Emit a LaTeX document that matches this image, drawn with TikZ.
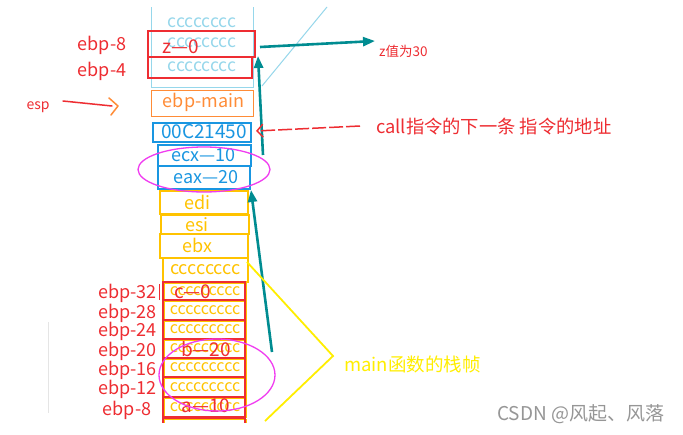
\documentclass[tikz,border=0pt]{standalone}
\usepackage{fontspec}
\setmainfont{Noto Sans CJK SC}
\usetikzlibrary{arrows.meta}
\definecolor{lblue}{RGB}{150,215,235}
\definecolor{cred}{RGB}{238,45,50}
\definecolor{corange}{RGB}{255,140,55}
\definecolor{cblue}{RGB}{25,150,225}
\definecolor{cgold}{RGB}{255,195,0}
\definecolor{cyel}{RGB}{255,238,0}
\definecolor{cteal}{RGB}{0,140,145}
\definecolor{cmag}{RGB}{240,60,240}
\definecolor{cgrey}{RGB}{150,150,150}
\tikzset{
  cell/.style={inner sep=0pt, anchor=north west},
  lbl/.style={inner sep=0pt, font=\fontsize{18}{18}\selectfont, text=cred},
  celltext/.style={inner sep=0pt, font=\fontsize{18}{18}\selectfont},
  tealarrow/.style={cteal, line width=2.6pt, -{Triangle[length=12pt,width=9pt]}},
}
\begin{document}
\begin{tikzpicture}[x=1pt,y=-1pt]
\useasboundingbox (0,0) rectangle (683,434);
\clip (0,0) rectangle (683,434);
\fill[white] (0,0) rectangle (683,434);
% light blue column
\draw[lblue, line width=1pt] (151,7) -- (151,87) -- (253,87) -- (253,7);
\draw[lblue, line width=1pt] (327,7) -- (262,86);
\foreach \y/\n in {23/c1,43/c2,67/c3}
  \node[inner sep=0pt, text=lblue, font=\fontsize{17.5}{17}\selectfont] (\n) at (202,\y) {cccccccc};
% red boxes z
\draw[cred, line width=1.5pt] (148,31) rectangle (255,57);
\draw[cred, line width=1.5pt] (148,57) rectangle (252,78);
\node[lbl, font=\fontsize{19}{19}\selectfont] (z0) at (181,47) {z—0};
\node[lbl] (e8a) at (102,45) {ebp-8};
\node[lbl] (e4a) at (102,71) {ebp-4};
% esp
\node[inner sep=0pt, text=cred, font=\fontsize{14}{14}\selectfont] (esp) at (38,107) {esp};
\coordinate (espA) at (63,101);
\coordinate (espB) at (112,106);
\draw[cred, line width=1.5pt, line cap=round] (espA) -- (espB);
\draw[corange, line width=1.5pt, line cap=round, line join=round] (109,98) -- (118,106) -- (111,115);
% ebp-main
\node[cell, draw=corange, line width=1.2pt, minimum width=102pt, minimum height=26pt] (ebpm) at (151,90) {};
\node[celltext, text=corange] at ([xshift=1pt,yshift=1pt]ebpm.center) {ebp-main};
% return address
\node[cell, draw=cblue, line width=2pt, minimum width=98pt, minimum height=19pt] (ret) at (152,122) {};
\node[celltext, text=cblue, font=\fontsize{19}{19}\selectfont] at ([xshift=2pt,yshift=1pt]ret.center) {00C21450};
\node[cell, draw=cblue, line width=2pt, minimum width=93pt, minimum height=21pt] (ecx) at (157,144) {};
\node[celltext, text=cblue] at ([xshift=-1pt]ecx.center) {ecx—10};
\node[cell, draw=cblue, line width=2pt, minimum width=92pt, minimum height=23pt] (eax) at (157,165) {};
\node[celltext, text=cblue] at ([xshift=2pt]eax.center) {eax—20};
% yellow
\node[cell, draw=cgold, line width=1.5pt, minimum width=88pt, minimum height=23pt] (edi) at (159,190) {};
\node[celltext, text=cgold] at ([xshift=-6pt]edi.center) {edi};
\node[cell, draw=cgold, line width=1.5pt, minimum width=88pt, minimum height=19pt] (esi) at (160,214) {};
\node[celltext, text=cgold] at ([xshift=-8pt]esi.center) {esi};
\node[cell, draw=cgold, line width=1.5pt, minimum width=88pt, minimum height=24pt] (ebx) at (159,233) {};
\node[celltext, text=cgold] at ([xshift=-6pt]ebx.center) {ebx};
\node[cell, draw=cgold, line width=1.5pt, minimum width=85pt, minimum height=24pt] (yc) at (162,257) {};
\node[celltext, text=cgold] at (yc.center) {cccccccc};
% red rows
\begin{scope}
\clip (0,0) rectangle (683,422);
\foreach \a/\b/\n in {282/300/r1,300/320/r2,320/339/r3,339/358/r4,358/377/r5,377/397/r6,397/417/r7,418/440/r8}{
  \draw[cgold, line width=1pt] (164,\a+1) rectangle (246,\b);
  \draw[cred, line width=1.8pt] (163,\a) rectangle (245,\b);
  \node[inner sep=0pt, text=cgold, font=\fontsize{16}{16}\selectfont] (\n) at (205,{(\a+\b)/2}) {ccccccccc};
}
\end{scope}
\node[lbl, font=\fontsize{19}{19}\selectfont] (cv) at (193,292) {c—0};
\node[lbl, font=\fontsize{19}{19}\selectfont] (bv) at (206,349) {b—20};
\node[lbl, font=\fontsize{19}{19}\selectfont] (av) at (206,406) {a—10};
\foreach \y/\t in {293/ebp-32,313/ebp-28,331/ebp-24,351/ebp-20,370/ebp-16,389/ebp-12}
  \node[lbl, anchor=east] at (157,\y) {\t};
\node[lbl] (e8b) at (127,410) {ebp-8};
\draw[cred, line width=1pt] (159,284) -- (159,300);
\draw[black!10, line width=0.8pt] (48,322) -- (48,413);
% ellipses
\draw[cmag, line width=1.3pt] (204,169.5) ellipse [x radius=66, y radius=22.5];
\draw[cmag, line width=1.3pt] (217,375) ellipse [x radius=58, y radius=36];
% teal arrows
\coordinate (zt) at (375,41);
\draw[tealarrow] (260,47) -- (zt);
\node[inner sep=0pt, anchor=west, text=cred, font=\fontsize{13.5}{13}\selectfont] (zlab) at (379,51) {z值为30};
\coordinate (t1s) at (263,155);
\coordinate (t1e) at (258,56);
\draw[tealarrow] (t1s) -- (t1e);
\coordinate (t2s) at (272,352);
\draw[tealarrow] (t2s) -- (eax.south east);
% call arrow
\node[inner sep=0pt, anchor=west, text=cred, font=\fontsize{18.3}{18}\selectfont] (call) at (376,127) {call指令的下一条 指令的地址};
\coordinate (callS) at (360,126);
\draw[cred, line width=1.5pt, dash pattern=on 14pt off 3pt, -{Straight Barb[length=6pt,width=13pt,line width=1.5pt]}] (callS) -- (256,131);
% yellow bracket
\coordinate (yv) at (333,356);
\draw[cyel, line width=1.8pt, line join=miter] (247,262) -- (yv) -- (265,421);
\node[inner sep=0pt, anchor=west, text=cyel, font=\fontsize{18.5}{18}\selectfont] (mainlab) at (344,364) {main函数的栈帧};
% watermark
\node[inner sep=0pt, anchor=west, text=cgrey, font=\fontsize{19}{19}\selectfont] (wm) at (497,414) {CSDN @风起、风落};
\end{tikzpicture}
\end{document}
